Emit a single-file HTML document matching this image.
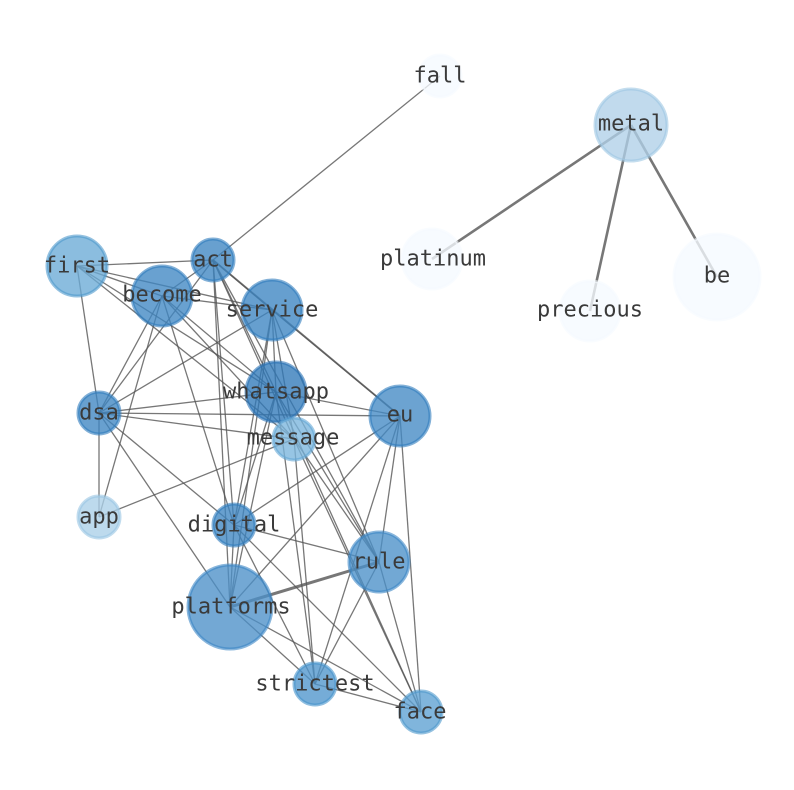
<!DOCTYPE html>
<html><head><meta charset="utf-8"><style>
html,body{margin:0;padding:0;background:#fff;}
svg{display:block}
text{font-family:"DejaVu Sans Mono","Liberation Mono",monospace;font-size:22px;fill:#3a3a3a;text-anchor:middle;dominant-baseline:central;}
</style></head><body>
<svg width="794" height="790" viewBox="0 0 794 790">
<g stroke="#555" stroke-opacity="0.8" stroke-width="1.3">
<line x1="213" y1="260" x2="440" y2="76"/>
<line x1="77" y1="266" x2="213" y2="260"/>
<line x1="77" y1="266" x2="162" y2="296"/>
<line x1="77" y1="266" x2="272" y2="310"/>
<line x1="77" y1="266" x2="276" y2="392"/>
<line x1="77" y1="266" x2="294" y2="439"/>
<line x1="77" y1="266" x2="99" y2="413"/>
<line x1="213" y1="260" x2="162" y2="296"/>
<line x1="213" y1="260" x2="272" y2="310"/>
<line x1="213" y1="260" x2="276" y2="392"/>
<line x1="213" y1="260" x2="400" y2="416" stroke-width="1.8"/>
<line x1="213" y1="260" x2="234" y2="525"/>
<line x1="213" y1="260" x2="230" y2="607"/>
<line x1="213" y1="260" x2="379" y2="562"/>
<line x1="213" y1="260" x2="294" y2="439"/>
<line x1="213" y1="260" x2="99" y2="413"/>
<line x1="162" y1="296" x2="272" y2="310"/>
<line x1="162" y1="296" x2="276" y2="392"/>
<line x1="162" y1="296" x2="99" y2="413"/>
<line x1="162" y1="296" x2="99" y2="517"/>
<line x1="162" y1="296" x2="234" y2="525"/>
<line x1="162" y1="296" x2="294" y2="439"/>
<line x1="272" y1="310" x2="99" y2="413"/>
<line x1="272" y1="310" x2="276" y2="392"/>
<line x1="272" y1="310" x2="234" y2="525"/>
<line x1="272" y1="310" x2="230" y2="607"/>
<line x1="272" y1="310" x2="294" y2="439"/>
<line x1="272" y1="310" x2="400" y2="416"/>
<line x1="272" y1="310" x2="379" y2="562"/>
<line x1="276" y1="392" x2="99" y2="413"/>
<line x1="276" y1="392" x2="400" y2="416"/>
<line x1="276" y1="392" x2="234" y2="525"/>
<line x1="276" y1="392" x2="230" y2="607"/>
<line x1="276" y1="392" x2="379" y2="562"/>
<line x1="276" y1="392" x2="315" y2="684"/>
<line x1="276" y1="392" x2="421" y2="712"/>
<line x1="99" y1="413" x2="400" y2="416"/>
<line x1="99" y1="413" x2="294" y2="439"/>
<line x1="99" y1="413" x2="99" y2="517"/>
<line x1="99" y1="413" x2="230" y2="607"/>
<line x1="99" y1="413" x2="234" y2="525"/>
<line x1="294" y1="439" x2="99" y2="517"/>
<line x1="294" y1="439" x2="315" y2="684"/>
<line x1="294" y1="439" x2="421" y2="712"/>
<line x1="294" y1="439" x2="379" y2="562"/>
<line x1="400" y1="416" x2="234" y2="525"/>
<line x1="400" y1="416" x2="230" y2="607"/>
<line x1="400" y1="416" x2="379" y2="562"/>
<line x1="400" y1="416" x2="315" y2="684"/>
<line x1="400" y1="416" x2="421" y2="712"/>
<line x1="234" y1="525" x2="379" y2="562"/>
<line x1="234" y1="525" x2="315" y2="684"/>
<line x1="234" y1="525" x2="421" y2="712"/>
<line x1="234" y1="525" x2="230" y2="607"/>
<line x1="230" y1="607" x2="379" y2="562" stroke-width="3"/>
<line x1="379" y1="562" x2="315" y2="684"/>
<line x1="379" y1="562" x2="421" y2="712"/>
<line x1="230" y1="607" x2="315" y2="684"/>
<line x1="230" y1="607" x2="421" y2="712"/>
<line x1="315" y1="684" x2="421" y2="712"/>
</g>
<g stroke="#777" stroke-width="2.6">
<line x1="631" y1="125" x2="432" y2="259"/>
<line x1="631" y1="125" x2="590" y2="311"/>
<line x1="631" y1="125" x2="717" y2="277"/>
</g>
<g stroke-width="3" fill-opacity="0.78" stroke-opacity="0.6">
<circle cx="440" cy="76" r="21" fill="#f5faff" stroke="#f5faff"/>
<circle cx="631" cy="125" r="36" fill="#b0d0e8" stroke="#9cc6e3"/>
<circle cx="432" cy="259" r="30" fill="#f5faff" stroke="#f5faff"/>
<circle cx="590" cy="311" r="30" fill="#f5faff" stroke="#f5faff"/>
<circle cx="717" cy="277" r="43" fill="#f5faff" stroke="#f5faff"/>
<circle cx="77" cy="266" r="30" fill="#6aaad6" stroke="#4d97cc"/>
<circle cx="213" cy="260" r="21" fill="#3d85c2" stroke="#2f7bbd"/>
<circle cx="162" cy="296" r="30" fill="#3f87c3" stroke="#2f7bbd"/>
<circle cx="272" cy="310" r="30" fill="#3b84c1" stroke="#2f7bbd"/>
<circle cx="276" cy="392" r="30" fill="#2f78b8" stroke="#2a72b4"/>
<circle cx="99" cy="413" r="21" fill="#3d85c2" stroke="#2f7bbd"/>
<circle cx="400" cy="416" r="30" fill="#4289c4" stroke="#2f7bbd"/>
<circle cx="294" cy="439" r="21" fill="#7ab5dc" stroke="#63a6d5"/>
<circle cx="99" cy="517" r="21" fill="#abcfe8" stroke="#98c4e3"/>
<circle cx="234" cy="525" r="21" fill="#3d85c2" stroke="#2f7bbd"/>
<circle cx="379" cy="562" r="30" fill="#4a8fc8" stroke="#3b86c4"/>
<circle cx="230" cy="607" r="42" fill="#4b90c8" stroke="#3b86c4"/>
<circle cx="315" cy="684" r="21" fill="#4e95cc" stroke="#4592cb"/>
<circle cx="421" cy="712" r="21" fill="#5ca0d2" stroke="#4d97cc"/>
</g>
<g>
<text x="440" y="76">fall</text>
<text x="631" y="124">metal</text>
<text x="433" y="259">platinum</text>
<text x="590" y="310">precious</text>
<text x="717" y="276">be</text>
<text x="77" y="266">first</text>
<text x="213" y="260">act</text>
<text x="162" y="295">become</text>
<text x="272" y="310">service</text>
<text x="276" y="392">whatsapp</text>
<text x="99" y="413">dsa</text>
<text x="400" y="415">eu</text>
<text x="293" y="438">message</text>
<text x="99" y="517">app</text>
<text x="234" y="525">digital</text>
<text x="379" y="562">rule</text>
<text x="231" y="607">platforms</text>
<text x="315" y="684">strictest</text>
<text x="420" y="712">face</text>
</g>
</svg>
</body></html>
